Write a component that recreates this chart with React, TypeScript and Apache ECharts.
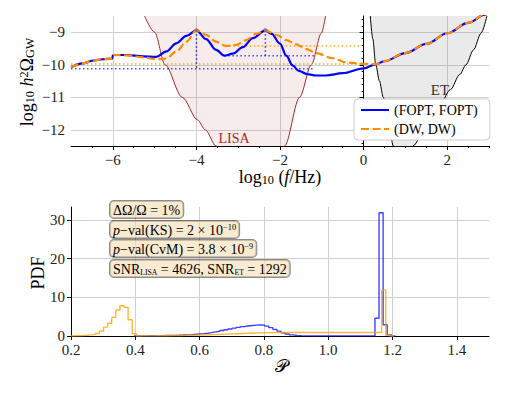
import React, { useEffect, useRef } from 'react';
import * as echarts from 'echarts';

const SERIF = 'Liberation Serif, DejaVu Serif, serif';

// ---------- Top panel data: log10(f/Hz) vs log10 h^2 Omega_GW ----------
const foptCurve: number[][] = [
  [-7.0, -10.08], [-6.72, -9.96], [-6.48, -9.87], [-6.24, -9.83], [-6.01, -9.81],
  [-6.0, -9.7], [-5.68, -9.7], [-5.28, -9.74], [-4.96, -9.76], [-4.72, -9.59],
  [-4.48, -9.34], [-4.24, -9.11], [-4.0, -8.94], [-3.77, -9.21], [-3.53, -9.54],
  [-3.33, -9.72], [-3.13, -9.66], [-2.89, -9.46], [-2.65, -9.18], [-2.35, -8.94],
  [-2.2, -9.05], [-2.0, -9.35], [-1.85, -9.72], [-1.7, -10.02], [-1.55, -10.19],
  [-1.35, -10.29], [-1.13, -10.33], [-0.9, -10.33], [-0.5, -10.26], [0.0, -10.11],
  [0.3, -9.98], [0.5, -9.89], [1.0, -9.64], [1.5, -9.36], [2.0, -9.03], [2.5, -8.71],
  [2.9, -8.46], [3.0, -8.4],
];
const dwCurve: number[][] = [
  [-7.0, -10.08], [-6.72, -9.96], [-6.48, -9.87], [-6.24, -9.83], [-6.01, -9.81],
  [-6.0, -9.7], [-5.68, -9.71], [-5.28, -9.77], [-4.96, -9.83], [-4.72, -9.81],
  [-4.48, -9.59], [-4.24, -9.29], [-4.0, -8.94], [-3.77, -9.08], [-3.53, -9.29],
  [-3.29, -9.42], [-3.05, -9.39], [-2.81, -9.24], [-2.57, -9.05], [-2.35, -8.94],
  [-2.09, -9.08], [-1.85, -9.24], [-1.61, -9.37], [-1.37, -9.52], [-1.13, -9.64],
  [-0.74, -9.8], [-0.42, -9.93], [0.0, -9.97], [0.3, -9.98], [0.5, -9.89],
  [1.0, -9.64], [1.5, -9.36], [2.0, -9.03], [2.5, -8.71], [2.9, -8.46], [3.0, -8.4],
];
// horizontal dotted levels: [xStart, xEnd, y]
const foptLevels: number[][] = [[-7, -1.2, -10.12], [-3.33, -1.18, -9.72]];
const dwLevels: number[][] = [[-7, 0, -9.98], [-3.3, -0.08, -9.42]];
// vertical dotted drops: [x, yTop, yBottom]
const foptDrops: number[][] = [[-4.0, -8.94, -10.12], [-2.35, -8.94, -9.72]];
const peakMarks: number[][] = [[-4.0, -8.93], [-2.35, -8.93]];
// sensitivity curves
const lisaCurve: number[][] = [
  [-5.24, -8.5], [-5.0, -9.0], [-4.75, -10.0], [-4.34, -11.0], [-3.97, -11.7],
  [-3.79, -12.0], [-3.53, -12.5], [-3.2, -13.0], [-2.7, -13.3], [-2.2, -13.2],
  [-1.89, -12.5], [-1.53, -11.0], [-1.25, -10.0], [-1.01, -9.03], [-0.91, -8.5],
];
const etCurve: number[][] = [
  [0.16, -8.5], [0.22, -9.2], [0.29, -10.0], [0.38, -10.5], [0.47, -11.0],
  [0.6, -11.8], [0.71, -12.5], [0.9, -13.0], [1.05, -13.0], [1.18, -12.5],
  [1.5, -11.9], [1.8, -11.3], [2.08, -10.76], [2.3, -10.3], [2.45, -10.0],
  [2.63, -9.54], [2.81, -9.03], [2.95, -8.5],
];
const topXTicks = [-6, -4, -2, 0, 2];
const topXMinor = [-6.5, -5.5, -5, -4.5, -3.5, -3, -2.5, -1.5, -1, -0.5, 0.5, 1, 1.5, 2.5, 3];
const topYTicks = [-12, -11, -10, -9];
const topYMinor = [-12.4, -12.2, -11.8, -11.6, -11.4, -11.2, -10.8, -10.6, -10.4, -10.2,
  -9.8, -9.6, -9.4, -9.2, -8.8, -8.6];

// ---------- Bottom panel data: histograms of P ----------
const foptBinStart = 0.396;
const foptBinWidth = 0.0127;
const foptHist = [
  0, 0.02, 0.03, 0.05, 0.06, 0.08, 0.1, 0.12, 0.14, 0.17,
  0.2, 0.24, 0.3, 0.36, 0.43, 0.5, 0.6, 0.72, 0.88, 1.05,
  1.22, 1.42, 1.62, 1.82, 2.02, 2.22, 2.42, 2.58, 2.72, 2.82,
  2.86, 2.8, 2.55, 2.15, 1.7, 1.25, 0.85, 0.5, 0.28, 0.14,
  0.07, 0.03, 0.01, 0, 0, 0, 0, 0, 0, 0,
  0, 0, 0, 0, 0, 0, 0, 0, 0, 4.6,
  31.8, 2.9, 0.3, 0,
];
const dwBinStart = 0.1995;
const dwBinWidth = 0.01272;
const dwHist = [
  0.05, 0.08, 0.12, 0.18, 0.28, 0.42, 0.65, 1.3, 2.3, 3.3,
  4.8, 6.7, 7.8, 7.4, 4.2, 0.6, 0, 0.02, 0.03, 0.04,
  0.05, 0.06, 0.07, 0.08, 0.1, 0.12, 0.14, 0.16, 0.18, 0.2,
  0.22, 0.25, 0.28, 0.32, 0.36, 0.4, 0.44, 0.48, 0.52, 0.56,
  0.6, 0.64, 0.68, 0.72, 0.76, 0.8, 0.83, 0.86, 0.88, 0.9,
  0.9, 0.9, 0.91, 0.91, 0.9, 0.9, 0.91, 0.9, 0.9, 0.9,
  0.91, 0.9, 0.9, 0.9, 0.91, 0.9, 0.9, 0.9, 0.9, 0.91,
  0.9, 0.9, 0.9, 0.91, 0.9, 0.9, 11.9, 0.2, 0,
];
const botXTicks = [0.2, 0.4, 0.6, 0.8, 1.0, 1.2, 1.4];
const botYTicks = [0, 10, 20, 30];

function stepPoints(start: number, width: number, vals: number[]) {
  const pts: number[][] = [[start, 0]];
  vals.forEach((v, i) => pts.push([start + i * width, v]));
  const end = start + vals.length * width;
  pts.push([end, vals[vals.length - 1]]);
  pts.push([end, 0]);
  return pts;
}

const minus = (v: number) => String(v).replace('-', '\u2212');

function richStyles(fs: number, subScale: number, supScale: number) {
  return {
    it: { fontStyle: 'italic', fontSize: fs, fontFamily: SERIF, fill: '#000' },
    sub: { fontSize: fs * subScale, lineHeight: fs * 0.38, verticalAlign: 'bottom', fontFamily: SERIF, fill: '#000' },
    sup: { fontSize: fs * supScale, lineHeight: fs * 0.55, verticalAlign: 'top', fontFamily: SERIF, fill: '#000' },
  };
}

const BOX_FILL = 'rgba(245,222,179,0.6)';
const BOX_EDGE = 'rgba(0,0,0,0.45)';

function boxText(x: number, y: number, text: string) {
  return {
    type: 'text', x, y, z: 100,
    style: {
      text, fontSize: 14, fontFamily: SERIF, fill: '#000', lineHeight: 14,
      rich: richStyles(14, 0.55, 0.6),
      backgroundColor: BOX_FILL, borderColor: BOX_EDGE, borderWidth: 1, borderRadius: 4,
      padding: [2, 3, 1, 3], align: 'left', verticalAlign: 'top',
    },
  };
}

export default function App() {
  const ref = useRef<HTMLDivElement>(null);
  useEffect(() => {
    if (!ref.current) return;
    const chart = echarts.init(ref.current, undefined, { renderer: 'svg' });
    const axisLine = { show: true, lineStyle: { color: '#000', width: 1 } };
    const grid = { show: true, lineStyle: { color: '#d0d0d0', width: 1 } };
    const labelBase = { fontFamily: SERIF, fontSize: 15, color: '#222' };
    const dotted = (color: string) => ({ color, width: 1.5, type: [1.5, 2.5] as any });

    const series: any[] = [
      {
        type: 'line', xAxisIndex: 0, yAxisIndex: 0, data: lisaCurve, symbol: 'none',
        smooth: 0.3, smoothMonotone: 'x', silent: true, z: 1,
        lineStyle: { color: '#a52a2a', width: 1 },
        areaStyle: { color: 'rgba(165,42,42,0.13)', origin: 'end' },
      },
      {
        type: 'line', xAxisIndex: 0, yAxisIndex: 0, data: etCurve, symbol: 'none',
        smooth: 0.3, smoothMonotone: 'x', silent: true, z: 1,
        lineStyle: { color: '#000', width: 1 },
        areaStyle: { color: 'rgba(128,128,128,0.24)', origin: 'end' },
      },
    ];
    dwLevels.forEach((l) => series.push({
      type: 'line', xAxisIndex: 0, yAxisIndex: 0, symbol: 'none', z: 2,
      data: [[l[0], l[2]], [l[1], l[2]]], lineStyle: dotted('rgba(255,165,0,0.9)'),
    }));
    foptLevels.forEach((l) => series.push({
      type: 'line', xAxisIndex: 0, yAxisIndex: 0, symbol: 'none', z: 2,
      data: [[l[0], l[2]], [l[1], l[2]]], lineStyle: dotted('rgba(0,0,255,0.7)'),
    }));
    foptDrops.forEach((d) => series.push({
      type: 'line', xAxisIndex: 0, yAxisIndex: 0, symbol: 'none', z: 2,
      data: [[d[0], d[1]], [d[0], d[2]]], lineStyle: dotted('rgba(0,0,255,0.8)'),
    }));
    series.push(
      {
        name: '(FOPT, FOPT)', type: 'line', xAxisIndex: 0, yAxisIndex: 0, data: foptCurve,
        symbol: 'none', smooth: 0.35, smoothMonotone: 'x', z: 3,
        lineStyle: { color: '#0000ff', width: 2.2 }, itemStyle: { color: '#0000ff' },
      },
      {
        name: '(DW, DW)', type: 'line', xAxisIndex: 0, yAxisIndex: 0, data: dwCurve,
        symbol: 'none', smooth: 0.35, smoothMonotone: 'x', z: 4,
        lineStyle: { color: '#ff8c00', width: 2.2, type: [8, 3.5] as any }, itemStyle: { color: '#ff8c00' },
      },
      {
        type: 'scatter', xAxisIndex: 0, yAxisIndex: 0, data: peakMarks, symbol: 'diamond',
        symbolSize: 5, z: 5, itemStyle: { color: 'rgba(110,110,150,0.8)' },
      },
      {
        type: 'line', xAxisIndex: 2, yAxisIndex: 2, symbol: 'none', step: 'end', z: 3,
        data: stepPoints(foptBinStart, foptBinWidth, foptHist),
        lineStyle: { color: 'rgba(0,0,255,0.75)', width: 1.4 },
      },
      {
        type: 'line', xAxisIndex: 2, yAxisIndex: 2, symbol: 'none', step: 'end', z: 4,
        data: stepPoints(dwBinStart, dwBinWidth, dwHist),
        lineStyle: { color: 'rgba(255,165,0,0.8)', width: 1.4 },
      },
    );

    const option: any = {
      animation: false,
      backgroundColor: '#fff',
      textStyle: { fontFamily: SERIF },
      grid: [
        { left: 71, top: 16, width: 418, height: 130 },
        { left: 71, top: 207, width: 418, height: 129 },
      ],
      xAxis: [
        {
          type: 'value', gridIndex: 0, min: -7, max: 3, axisLine,
          axisTick: { show: true, customValues: topXTicks, length: 4, lineStyle: { color: '#000' } },
          axisLabel: { ...labelBase, customValues: topXTicks, formatter: minus, margin: 6 },
          splitLine: grid,
        },
        {
          type: 'value', gridIndex: 0, min: -7, max: 3, position: 'bottom',
          axisLine: { show: false },
          axisTick: { show: true, customValues: topXMinor, length: 2, lineStyle: { color: '#000' } },
          axisLabel: { show: false }, splitLine: { show: false },
        },
        {
          type: 'value', gridIndex: 1, min: 0.2, max: 1.5, axisLine,
          axisTick: { show: true, customValues: botXTicks, length: 4, lineStyle: { color: '#000' } },
          axisLabel: { ...labelBase, customValues: botXTicks, formatter: (v: number) => v.toFixed(1), margin: 6 },
          splitLine: grid,
        },
      ],
      yAxis: [
        {
          type: 'value', gridIndex: 0, min: -12.5, max: -8.5, axisLine,
          axisTick: { show: true, customValues: topYTicks, length: 4, lineStyle: { color: '#000' } },
          axisLabel: { ...labelBase, customValues: topYTicks, formatter: minus, margin: 6 },
          splitLine: grid,
        },
        {
          type: 'value', gridIndex: 0, min: -12.5, max: -8.5, position: 'left',
          axisLine: { show: false },
          axisTick: { show: true, customValues: topYMinor, length: 2, lineStyle: { color: '#000' } },
          axisLabel: { show: false }, splitLine: { show: false },
        },
        {
          type: 'value', gridIndex: 1, min: 0, max: 33.3, axisLine,
          axisTick: { show: true, customValues: botYTicks, length: 4, lineStyle: { color: '#000' } },
          axisLabel: { ...labelBase, customValues: botYTicks, margin: 6 },
          splitLine: grid,
        },
      ],
      legend: {
        data: ['(FOPT, FOPT)', '(DW, DW)'],
        orient: 'vertical', left: 354, top: 99,
        itemWidth: 28, itemHeight: 10, itemGap: 5,
        padding: [4, 12, 4, 6],
        backgroundColor: '#fff', borderColor: '#ccc', borderWidth: 1, borderRadius: 4,
        textStyle: { fontFamily: SERIF, fontSize: 14, color: '#000' },
        itemStyle: { opacity: 0 },
        z: 10,
      },
      graphic: [
        {
          type: 'text', x: 27, y: 82, rotation: Math.PI / 2, z: 100,
          style: {
            text: 'log{sub|10} {it|h}{sup|2}\u03A9{sub|GW}', fontSize: 18, lineHeight: 18,
            fontFamily: SERIF, fill: '#000', rich: richStyles(18, 0.68, 0.68), align: 'center', verticalAlign: 'middle',
          },
        },
        {
          type: 'text', x: 280, y: 177, z: 100,
          style: {
            text: 'log{sub|10} ({it|f}/Hz)', fontSize: 18, lineHeight: 18,
            fontFamily: SERIF, fill: '#000', rich: richStyles(18, 0.68, 0.68), align: 'center', verticalAlign: 'middle',
          },
        },
        {
          type: 'text', x: 38, y: 273, rotation: Math.PI / 2, z: 100,
          style: { text: 'PDF', fontSize: 18, fontFamily: SERIF, fill: '#000', align: 'center', verticalAlign: 'middle' },
        },
        {
          type: 'text', x: 281, y: 365, z: 100,
          style: { text: '\uD835\uDCAB', fontSize: 18, fontFamily: 'DejaVu Serif, DejaVu Sans, serif', fill: '#000', align: 'center', verticalAlign: 'middle' },
        },
        {
          type: 'text', x: 234, y: 138, z: 100,
          style: { text: 'LISA', fontSize: 14, fontFamily: SERIF, fill: '#a52a2a', align: 'center', verticalAlign: 'middle' },
        },
        {
          type: 'text', x: 440, y: 90, z: 100,
          style: { text: 'ET', fontSize: 15, fontFamily: SERIF, fill: '#333', align: 'center', verticalAlign: 'middle' },
        },
        boxText(110, 201, '\u0394\u03A9/\u03A9 = 1%'),
        boxText(110, 221, '{it|p}\u2212val(KS) = 2 \u00D7 10{sup|\u221210}'),
        boxText(110, 240, '{it|p}\u2212val(CvM) = 3.8 \u00D7 10{sup|\u22129}'),
        boxText(110, 260, 'SNR{sub|LISA} = 4626, SNR{sub|ET} = 1292'),
      ],
      series,
    };
    chart.setOption(option);
    return () => chart.dispose();
  }, []);
  return (
    <div
      ref={ref}
      style={{ position: 'fixed', left: 0, top: 0, width: 506, height: 393, background: '#fff' }}
    />
  );
}
